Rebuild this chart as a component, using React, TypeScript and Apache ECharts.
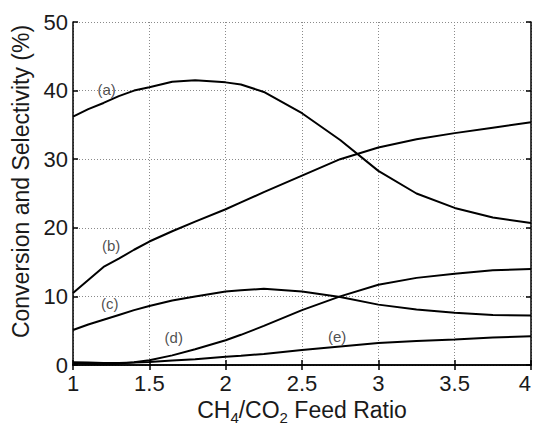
import React, { useEffect, useRef } from "react";
import * as echarts from "echarts";

const xs = [1, 1.1, 1.2, 1.3, 1.4, 1.5, 1.65, 1.8, 2.0, 2.1, 2.25, 2.5, 2.75, 3.0, 3.25, 3.5, 3.75, 4.0];
const seriesA = [36.2, 37.3, 38.2, 39.2, 40.0, 40.5, 41.3, 41.5, 41.2, 40.9, 39.8, 36.7, 32.8, 28.3, 25.0, 22.9, 21.5, 20.7];
const seriesB = [10.5, 12.4, 14.3, 15.5, 16.8, 18.0, 19.5, 20.9, 22.7, 23.7, 25.2, 27.6, 30.0, 31.7, 32.9, 33.8, 34.6, 35.4];
const seriesC = [5.1, 5.9, 6.6, 7.3, 8.0, 8.6, 9.4, 10.0, 10.7, 10.9, 11.1, 10.7, 9.9, 8.8, 8.1, 7.6, 7.3, 7.2];
const seriesD = [0.3, 0.2, 0.1, 0.2, 0.4, 0.7, 1.4, 2.3, 3.6, 4.4, 5.7, 8.0, 10.0, 11.7, 12.7, 13.3, 13.8, 14.0];
const seriesE = [0.4, 0.35, 0.3, 0.3, 0.35, 0.45, 0.65, 0.85, 1.2, 1.35, 1.6, 2.2, 2.7, 3.2, 3.5, 3.7, 4.0, 4.2];

const curveNames = ["(a)", "(b)", "(c)", "(d)", "(e)"];
const labelX = [1.22, 1.25, 1.24, 1.66, 2.73];
const labelY = [40.2, 17.4, 9.0, 3.95, 4.2];

const xTicks = { min: 1, max: 4, interval: 0.5 };
const yTicks = { min: 0, max: 50, interval: 10 };

const FONT = "Liberation Sans, Arial, Helvetica, sans-serif";

export default function App() {
  const ref = useRef<HTMLDivElement>(null);
  useEffect(() => {
    if (!ref.current) return;
    const chart = echarts.init(ref.current, null, { renderer: "svg" });
    const allSeries = [seriesA, seriesB, seriesC, seriesD, seriesE];
    const gridLine = { show: true, lineStyle: { color: "#8a8a8a", width: 1, type: [1, 2] as any } };
    const axisLine = { show: true, lineStyle: { color: "#000", width: 1.5 } };
    const tickIn = { show: true, inside: true, length: 5, lineStyle: { color: "#000", width: 1.5 } };
    chart.setOption({
      animation: false,
      backgroundColor: "#fff",
      grid: { left: 73, right: 4, top: 22, bottom: 60, containLabel: false, outerBoundsMode: "none" },
      xAxis: [
        {
          type: "value",
          ...xTicks,
          position: "bottom",
          axisLine,
          axisTick: tickIn,
          splitLine: gridLine,
          axisLabel: { fontSize: 22, color: "#1a1a1a", fontFamily: FONT, margin: 7, alignMaxLabel: "right" },
          name: "{m|CH}{s|4}{m|/CO}{s|2}{m| Feed Ratio}",
          nameLocation: "middle",
          nameGap: 30,
          nameTextStyle: {
            rich: {
              m: { fontSize: 23, fontFamily: FONT, color: "#1a1a1a", lineHeight: 24, verticalAlign: "middle" },
              s: { fontSize: 15, fontFamily: FONT, color: "#1a1a1a", lineHeight: 15, verticalAlign: "bottom", padding: [0, 0, -3, 0] },
            },
          },
        },
        {
          type: "value",
          ...xTicks,
          position: "top",
          axisLine,
          axisTick: tickIn,
          splitLine: { show: false },
          axisLabel: { show: false },
        },
      ],
      yAxis: [
        {
          type: "value",
          ...yTicks,
          position: "left",
          axisLine,
          axisTick: tickIn,
          splitLine: gridLine,
          axisLabel: { fontSize: 22, color: "#1a1a1a", fontFamily: FONT, margin: 5 },
          name: "Conversion and Selectivity (%)",
          nameLocation: "middle",
          nameRotate: 90,
          nameGap: 39,
          nameTextStyle: { fontSize: 23, fontFamily: FONT, color: "#1a1a1a", padding: [0, 0, 0, 24] },
        },
        {
          type: "value",
          ...yTicks,
          position: "right",
          axisLine,
          axisTick: tickIn,
          splitLine: { show: false },
          axisLabel: { show: false },
        },
      ],
      series: [
        ...allSeries.map((vals, i) => ({
          type: "line",
          name: curveNames[i],
          data: xs.map((x, j) => [x, vals[j]]),
          showSymbol: false,
          symbol: "none",
          lineStyle: { color: "#000", width: 2 },
          xAxisIndex: 0,
          yAxisIndex: 0,
          z: 3,
        })),
        {
          type: "scatter",
          symbolSize: 0,
          data: curveNames.map((n, i) => ({ value: [labelX[i], labelY[i]], name: n })),
          label: {
            show: true,
            position: "inside",
            formatter: (p: any) => p.name,
            fontSize: 15,
            fontFamily: FONT,
            color: "#222",
          },
          z: 4,
        },
      ],
    });
    return () => chart.dispose();
  }, []);
  return (
    <div
      ref={ref}
      style={{ position: "fixed", left: 0, top: 0, width: 535, height: 425, background: "#fff" }}
    />
  );
}
